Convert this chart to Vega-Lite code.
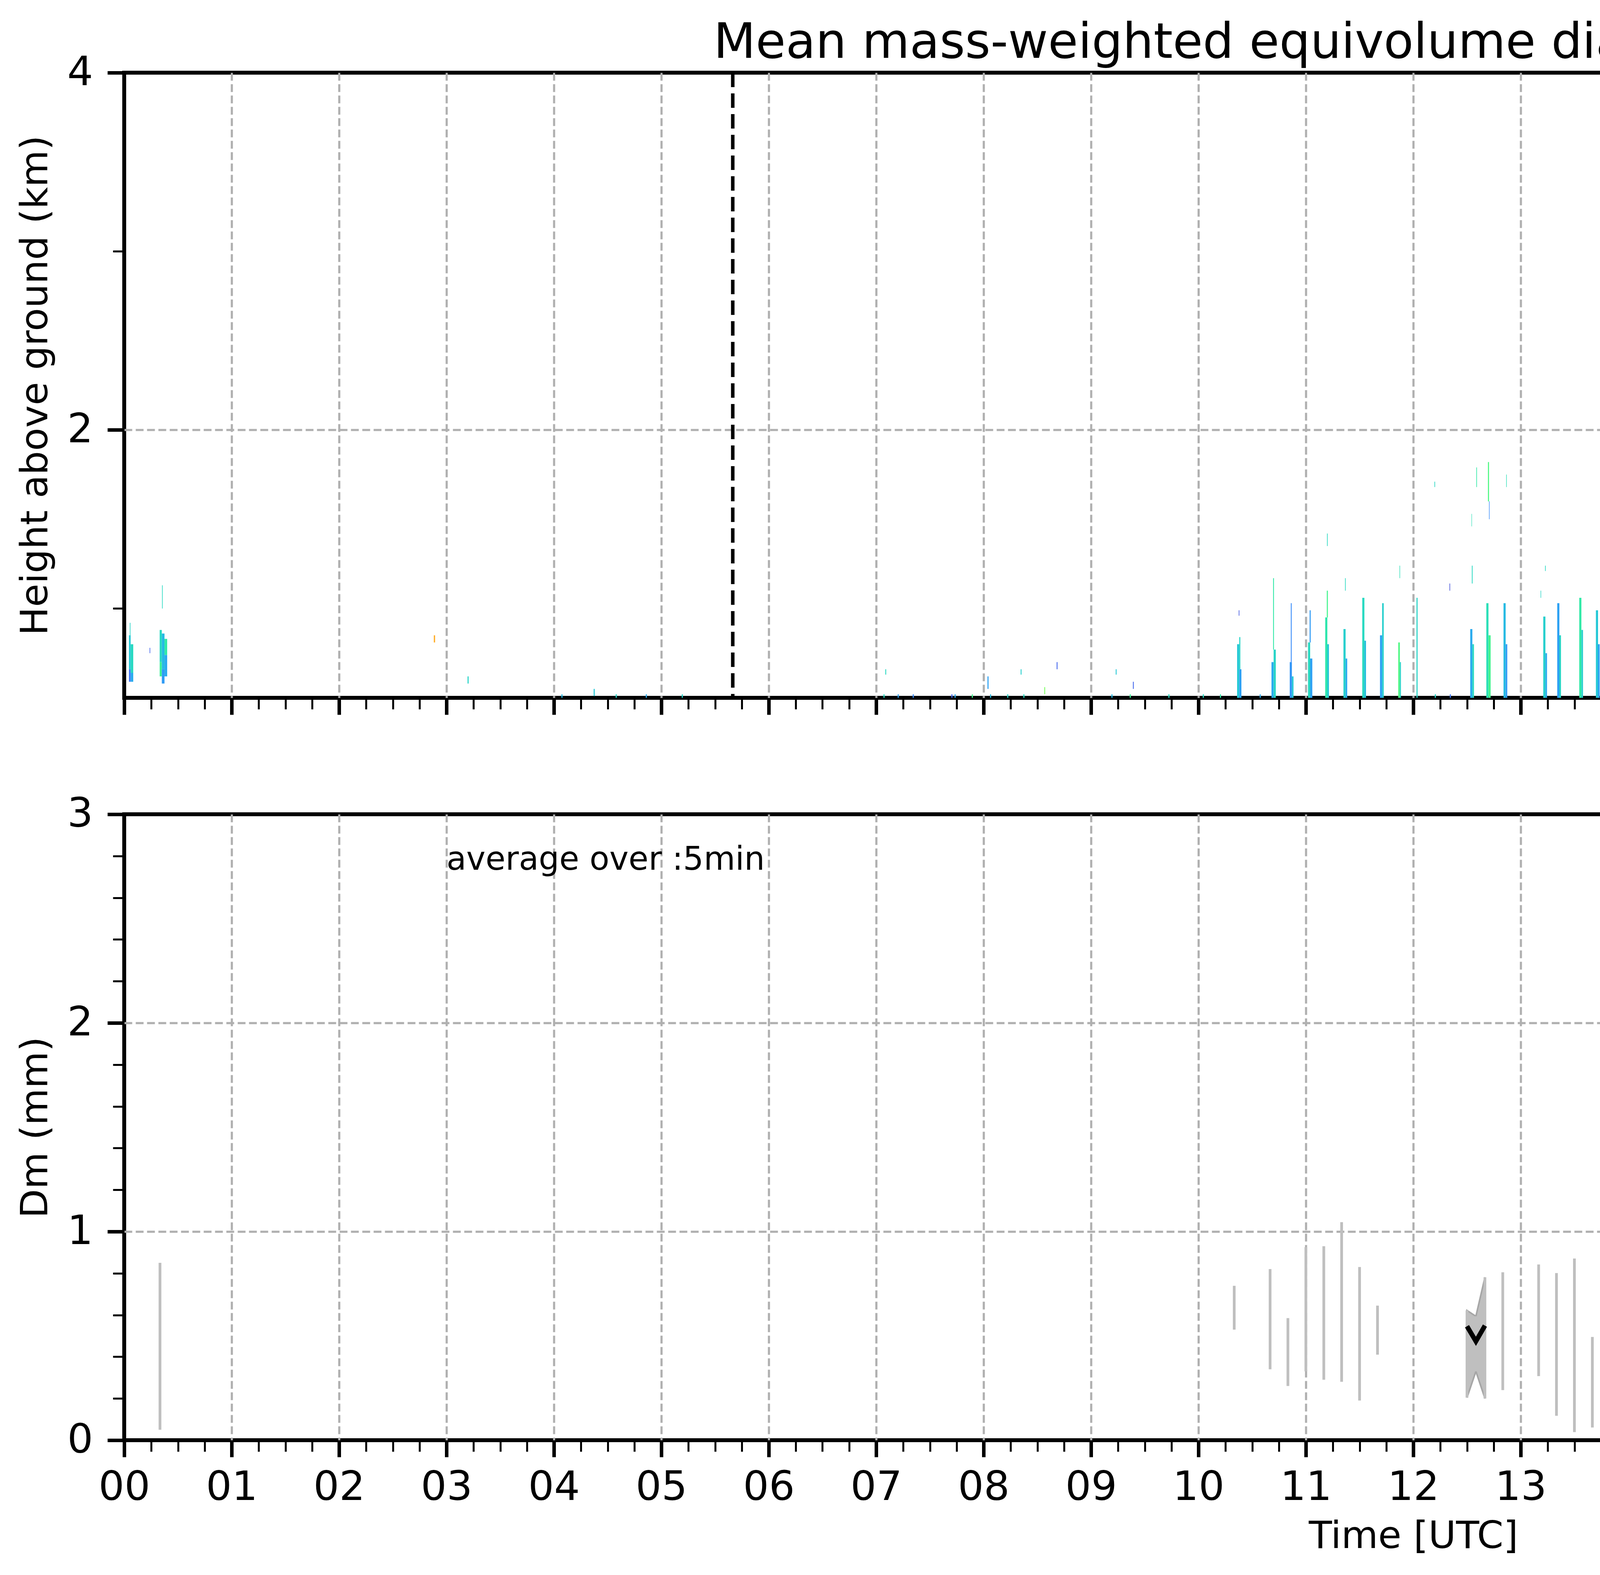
{
  "$schema": "https://vega.github.io/schema/vega-lite/v6.json",
  "autosize": {"type": "none"},
  "padding": {"left": 318, "top": 186, "right": 7124, "bottom": 3845},
  "background": "white",
  "columns": 2,
  "spacing": {"row": 298, "column": 75},
  "bounds": "flush",
  "align": "each",
  "resolve": {"scale": {"color": "independent"}, "legend": {"color": "independent"}},
  "config": {
    "font": "DejaVu Sans",
    "view": {"stroke": "black", "strokeWidth": 10},
    "axis": {
      "domain": false,
      "labelFont": "DejaVu Sans",
      "titleFont": "DejaVu Sans",
      "labelFontSize": 104,
      "titleFontSize": 97,
      "titleFontWeight": "normal",
      "labelColor": "black",
      "titleColor": "black",
      "tickColor": "black",
      "gridColor": "#b0b0b0",
      "gridDash": [20, 9],
      "gridWidth": 5.5,
      "labelOverlap": false,
      "labelFlush": false,
      "labelBound": false,
      "zindex": 1
    }
  },
  "concat": [
    {
      "width": 6600,
      "height": 1600,
      "title": {
        "text": "Mean mass-weighted equivolume diameter on 20241020",
        "fontSize": 125,
        "fontWeight": "normal",
        "font": "DejaVu Sans",
        "color": "black",
        "anchor": "middle",
        "frame": "group",
        "baseline": "alphabetic",
        "offset": -139
      },
      "layer": [
        {
          "data": {"values": [{"t0": 23.88, "t1": 24, "z0": 0.5, "z1": 4}]},
          "mark": {"type": "rect", "color": "#d9d9d9"},
          "encoding": {
            "x": {
              "field": "t0", "type": "quantitative",
              "scale": {"domain": [0, 24], "nice": false, "zero": false},
              "axis": {
                "title": null,
                "labels": false,
                "orient": "bottom",
                "values": [0,0.25,0.5,0.75,1,1.25,1.5,1.75,2,2.25,2.5,2.75,3,3.25,3.5,3.75,4,4.25,4.5,4.75,5,5.25,5.5,5.75,6,6.25,6.5,6.75,7,7.25,7.5,7.75,8,8.25,8.5,8.75,9,9.25,9.5,9.75,10,10.25,10.5,10.75,11,11.25,11.5,11.75,12,12.25,12.5,12.75,13,13.25,13.5,13.75,14,14.25,14.5,14.75,15,15.25,15.5,15.75,16,16.25,16.5,16.75,17,17.25,17.5,17.75,18,18.25,18.5,18.75,19,19.25,19.5,19.75,20,20.25,20.5,20.75,21,21.25,21.5,21.75,22,22.25,22.5,22.75,23,23.25,23.5,23.75,24],
                "tickSize": {"condition": {"test": "datum.value % 1 === 0", "value": 43}, "value": 29},
                "tickWidth": {"condition": {"test": "datum.value % 1 === 0", "value": 9}, "value": 5},
                "grid": true,
                "gridOpacity": {"condition": {"test": "datum.value % 1 === 0 && datum.value > 0 && datum.value < 24", "value": 1}, "value": 0}
              }
            },
            "x2": {"field": "t1"},
            "y": {
              "field": "z0", "type": "quantitative",
              "scale": {"domain": [0.5, 4], "nice": false, "zero": false},
              "axis": {
                "title": "Height above ground (km)",
                "values": [1, 2, 3, 4],
                "labelExpr": "datum.value % 2 === 0 ? '' + datum.value : ''",
                "tickSize": {"condition": {"test": "datum.value % 2 === 0", "value": 43}, "value": 29},
                "tickWidth": {"condition": {"test": "datum.value % 2 === 0", "value": 9}, "value": 5},
                "grid": true,
                "gridOpacity": {"condition": {"test": "datum.value === 2", "value": 1}, "value": 0},
                "labelPadding": 37,
                "titlePadding": 31
              }
            },
            "y2": {"field": "z1"}
          }
        },
        {
          "data": {"values": [
            {"t0":0.044,"t1":0.060,"z0":0.59,"z1":0.66,"dm":0.30},
            {"t0":0.044,"t1":0.060,"z0":0.66,"z1":0.85,"dm":0.55},
            {"t0":0.060,"t1":0.084,"z0":0.59,"z1":0.64,"dm":0.45},
            {"t0":0.060,"t1":0.084,"z0":0.64,"z1":0.80,"dm":0.62},
            {"t0":0.052,"t1":0.058,"z0":0.85,"z1":0.92,"dm":0.60},
            {"t0":0.330,"t1":0.350,"z0":0.62,"z1":0.70,"dm":0.75},
            {"t0":0.330,"t1":0.350,"z0":0.70,"z1":0.88,"dm":0.62},
            {"t0":0.350,"t1":0.375,"z0":0.58,"z1":0.66,"dm":0.40},
            {"t0":0.350,"t1":0.375,"z0":0.66,"z1":0.86,"dm":0.50},
            {"t0":0.375,"t1":0.400,"z0":0.62,"z1":0.74,"dm":0.45},
            {"t0":0.375,"t1":0.400,"z0":0.74,"z1":0.83,"dm":0.70},
            {"t0":0.352,"t1":0.358,"z0":1.00,"z1":1.13,"dm":0.62},
            {"t0":0.236,"t1":0.242,"z0":0.75,"z1":0.78,"dm":0.25},
            {"t0":2.882,"t1":2.894,"z0":0.81,"z1":0.85,"dm":1.40},
            {"t0":3.196,"t1":3.206,"z0":0.58,"z1":0.62,"dm":0.60},
            {"t0":4.07,"t1":4.08,"z0":0.5,"z1":0.52,"dm":0.50},
            {"t0":4.37,"t1":4.38,"z0":0.51,"z1":0.55,"dm":0.55},
            {"t0":4.575,"t1":4.585,"z0":0.5,"z1":0.52,"dm":0.60},
            {"t0":4.855,"t1":4.865,"z0":0.5,"z1":0.52,"dm":0.45},
            {"t0":5.19,"t1":5.20,"z0":0.5,"z1":0.52,"dm":0.60},
            {"t0":7.068,"t1":7.078,"z0":0.5,"z1":0.52,"dm":0.62},
            {"t0":7.085,"t1":7.093,"z0":0.63,"z1":0.66,"dm":0.62},
            {"t0":7.20,"t1":7.21,"z0":0.5,"z1":0.52,"dm":0.42},
            {"t0":7.34,"t1":7.35,"z0":0.5,"z1":0.52,"dm":0.35},
            {"t0":7.70,"t1":7.71,"z0":0.5,"z1":0.52,"dm":0.25},
            {"t0":7.73,"t1":7.74,"z0":0.5,"z1":0.52,"dm":0.45},
            {"t0":7.89,"t1":7.90,"z0":0.5,"z1":0.52,"dm":0.78},
            {"t0":8.036,"t1":8.046,"z0":0.55,"z1":0.62,"dm":0.42},
            {"t0":8.06,"t1":8.07,"z0":0.5,"z1":0.52,"dm":0.50},
            {"t0":8.22,"t1":8.23,"z0":0.5,"z1":0.52,"dm":0.60},
            {"t0":8.345,"t1":8.353,"z0":0.63,"z1":0.66,"dm":0.58},
            {"t0":8.37,"t1":8.38,"z0":0.5,"z1":0.52,"dm":0.62},
            {"t0":8.565,"t1":8.573,"z0":0.52,"z1":0.56,"dm":0.95},
            {"t0":8.68,"t1":8.688,"z0":0.66,"z1":0.70,"dm":0.25},
            {"t0":9.19,"t1":9.20,"z0":0.5,"z1":0.52,"dm":0.50},
            {"t0":9.23,"t1":9.238,"z0":0.63,"z1":0.66,"dm":0.55},
            {"t0":9.36,"t1":9.37,"z0":0.5,"z1":0.52,"dm":0.75},
            {"t0":9.39,"t1":9.398,"z0":0.55,"z1":0.59,"dm":0.25},
            {"t0":9.72,"t1":9.73,"z0":0.5,"z1":0.52,"dm":0.62},
            {"t0":10.04,"t1":10.05,"z0":0.5,"z1":0.52,"dm":0.62},
            {"t0":10.20,"t1":10.21,"z0":0.5,"z1":0.52,"dm":0.70},
            {"t0":10.36,"t1":10.38,"z0":0.5,"z1":0.80,"dm":0.55},
            {"t0":10.38,"t1":10.40,"z0":0.5,"z1":0.66,"dm":0.42},
            {"t0":10.38,"t1":10.39,"z0":0.66,"z1":0.84,"dm":0.60},
            {"t0":10.375,"t1":10.381,"z0":0.96,"z1":0.99,"dm":0.22},
            {"t0":10.57,"t1":10.58,"z0":0.5,"z1":0.52,"dm":0.45},
            {"t0":10.68,"t1":10.70,"z0":0.5,"z1":0.70,"dm":0.45},
            {"t0":10.70,"t1":10.72,"z0":0.5,"z1":0.77,"dm":0.60},
            {"t0":10.695,"t1":10.703,"z0":0.77,"z1":1.17,"dm":0.70},
            {"t0":10.85,"t1":10.87,"z0":0.5,"z1":0.70,"dm":0.38},
            {"t0":10.87,"t1":10.885,"z0":0.5,"z1":0.62,"dm":0.55},
            {"t0":10.86,"t1":10.868,"z0":0.70,"z1":1.03,"dm":0.35},
            {"t0":11.02,"t1":11.04,"z0":0.5,"z1":0.81,"dm":0.62},
            {"t0":11.04,"t1":11.06,"z0":0.5,"z1":0.72,"dm":0.42},
            {"t0":11.035,"t1":11.045,"z0":0.81,"z1":0.99,"dm":0.40},
            {"t0":11.18,"t1":11.20,"z0":0.5,"z1":0.95,"dm":0.68},
            {"t0":11.20,"t1":11.215,"z0":0.5,"z1":0.80,"dm":0.55},
            {"t0":11.195,"t1":11.205,"z0":0.95,"z1":1.10,"dm":0.78},
            {"t0":11.197,"t1":11.203,"z0":1.35,"z1":1.42,"dm":0.62},
            {"t0":11.35,"t1":11.37,"z0":0.5,"z1":0.885,"dm":0.58},
            {"t0":11.37,"t1":11.385,"z0":0.5,"z1":0.72,"dm":0.45},
            {"t0":11.365,"t1":11.371,"z0":1.10,"z1":1.17,"dm":0.62},
            {"t0":11.525,"t1":11.545,"z0":0.5,"z1":1.06,"dm":0.62},
            {"t0":11.545,"t1":11.56,"z0":0.5,"z1":0.82,"dm":0.52},
            {"t0":11.69,"t1":11.71,"z0":0.5,"z1":0.85,"dm":0.42},
            {"t0":11.71,"t1":11.725,"z0":0.5,"z1":1.03,"dm":0.58},
            {"t0":11.86,"t1":11.875,"z0":0.5,"z1":0.81,"dm":0.82},
            {"t0":11.875,"t1":11.885,"z0":0.5,"z1":0.70,"dm":0.60},
            {"t0":11.872,"t1":11.877,"z0":1.17,"z1":1.24,"dm":0.65},
            {"t0":12.03,"t1":12.04,"z0":0.5,"z1":1.06,"dm":0.60},
            {"t0":12.197,"t1":12.203,"z0":1.68,"z1":1.71,"dm":0.62},
            {"t0":12.20,"t1":12.21,"z0":0.5,"z1":0.52,"dm":0.60},
            {"t0":12.337,"t1":12.343,"z0":1.10,"z1":1.14,"dm":0.20},
            {"t0":12.34,"t1":12.35,"z0":0.5,"z1":0.52,"dm":0.30},
            {"t0":12.53,"t1":12.55,"z0":0.5,"z1":0.885,"dm":0.45},
            {"t0":12.55,"t1":12.565,"z0":0.5,"z1":0.80,"dm":0.62},
            {"t0":12.545,"t1":12.552,"z0":1.14,"z1":1.24,"dm":0.62},
            {"t0":12.542,"t1":12.546,"z0":1.46,"z1":1.53,"dm":0.65},
            {"t0":12.587,"t1":12.593,"z0":1.68,"z1":1.79,"dm":0.70},
            {"t0":12.68,"t1":12.70,"z0":0.5,"z1":1.03,"dm":0.65},
            {"t0":12.70,"t1":12.72,"z0":0.5,"z1":0.85,"dm":0.78},
            {"t0":12.695,"t1":12.705,"z0":1.60,"z1":1.82,"dm":0.82},
            {"t0":12.705,"t1":12.71,"z0":1.50,"z1":1.60,"dm":0.35},
            {"t0":12.84,"t1":12.86,"z0":0.5,"z1":1.03,"dm":0.50},
            {"t0":12.86,"t1":12.875,"z0":0.5,"z1":0.80,"dm":0.40},
            {"t0":12.865,"t1":12.87,"z0":1.68,"z1":1.75,"dm":0.65},
            {"t0":13.185,"t1":13.19,"z0":1.06,"z1":1.10,"dm":0.60},
            {"t0":13.21,"t1":13.23,"z0":0.5,"z1":0.955,"dm":0.58},
            {"t0":13.23,"t1":13.245,"z0":0.5,"z1":0.75,"dm":0.45},
            {"t0":13.227,"t1":13.233,"z0":1.21,"z1":1.24,"dm":0.62},
            {"t0":13.34,"t1":13.36,"z0":0.5,"z1":1.03,"dm":0.42},
            {"t0":13.36,"t1":13.375,"z0":0.5,"z1":0.85,"dm":0.60},
            {"t0":13.545,"t1":13.565,"z0":0.5,"z1":1.06,"dm":0.70},
            {"t0":13.565,"t1":13.58,"z0":0.5,"z1":0.88,"dm":0.58},
            {"t0":13.70,"t1":13.72,"z0":0.5,"z1":0.99,"dm":0.55},
            {"t0":13.72,"t1":13.735,"z0":0.5,"z1":0.80,"dm":0.42},
            {"t0":13.86,"t1":13.875,"z0":0.5,"z1":0.92,"dm":0.42},
            {"t0":13.875,"t1":13.89,"z0":0.5,"z1":0.78,"dm":0.58},
            {"t0":14.09,"t1":14.10,"z0":0.5,"z1":0.52,"dm":0.45},
            {"t0":14.23,"t1":14.24,"z0":0.5,"z1":0.53,"dm":0.40},
            {"t0":14.38,"t1":14.395,"z0":0.5,"z1":0.99,"dm":0.38},
            {"t0":14.53,"t1":14.55,"z0":0.5,"z1":1.03,"dm":0.72},
            {"t0":14.55,"t1":14.565,"z0":0.5,"z1":0.80,"dm":0.45},
            {"t0":14.545,"t1":14.552,"z0":1.14,"z1":1.17,"dm":0.80},
            {"t0":14.70,"t1":14.72,"z0":0.5,"z1":0.885,"dm":0.60},
            {"t0":14.85,"t1":14.865,"z0":0.5,"z1":0.84,"dm":0.40},
            {"t0":15.035,"t1":15.045,"z0":0.5,"z1":0.70,"dm":0.50},
            {"t0":15.21,"t1":15.23,"z0":0.5,"z1":0.77,"dm":0.72},
            {"t0":15.54,"t1":15.55,"z0":0.5,"z1":0.52,"dm":0.30},
            {"t0":15.565,"t1":15.575,"z0":0.5,"z1":0.66,"dm":0.35},
            {"t0":15.70,"t1":15.715,"z0":0.5,"z1":0.92,"dm":0.62},
            {"t0":15.715,"t1":15.725,"z0":0.5,"z1":0.70,"dm":0.48},
            {"t0":15.845,"t1":15.86,"z0":0.5,"z1":0.885,"dm":0.58},
            {"t0":15.86,"t1":15.875,"z0":0.5,"z1":0.75,"dm":0.42},
            {"t0":15.857,"t1":15.863,"z0":1.53,"z1":1.56,"dm":0.62},
            {"t0":16.04,"t1":16.06,"z0":0.5,"z1":0.84,"dm":0.40},
            {"t0":16.205,"t1":16.215,"z0":0.5,"z1":0.66,"dm":0.62},
            {"t0":16.35,"t1":16.37,"z0":0.5,"z1":0.66,"dm":0.72},
            {"t0":16.545,"t1":16.565,"z0":0.5,"z1":0.66,"dm":0.50},
            {"t0":16.70,"t1":16.725,"z0":0.5,"z1":0.70,"dm":0.62},
            {"t0":16.84,"t1":16.855,"z0":0.5,"z1":0.70,"dm":0.60},
            {"t0":16.848,"t1":16.854,"z0":0.70,"z1":0.955,"dm":0.35},
            {"t0":17.04,"t1":17.05,"z0":0.5,"z1":0.52,"dm":0.80},
            {"t0":17.21,"t1":17.22,"z0":0.5,"z1":0.52,"dm":0.40},
            {"t0":17.35,"t1":17.367,"z0":0.5,"z1":0.92,"dm":0.58},
            {"t0":17.367,"t1":17.38,"z0":0.5,"z1":0.75,"dm":0.42},
            {"t0":17.545,"t1":17.562,"z0":0.5,"z1":0.92,"dm":0.42},
            {"t0":17.562,"t1":17.575,"z0":0.5,"z1":0.80,"dm":0.60},
            {"t0":17.85,"t1":17.86,"z0":0.5,"z1":0.52,"dm":0.60},
            {"t0":18.05,"t1":18.06,"z0":0.5,"z1":0.52,"dm":0.45},
            {"t0":18.06,"t1":18.066,"z0":1.46,"z1":1.53,"dm":0.62},
            {"t0":18.19,"t1":18.20,"z0":0.5,"z1":0.52,"dm":0.30},
            {"t0":18.238,"t1":18.244,"z0":1.14,"z1":1.17,"dm":0.25},
            {"t0":18.35,"t1":18.36,"z0":0.5,"z1":0.52,"dm":0.62},
            {"t0":18.55,"t1":18.56,"z0":0.5,"z1":0.52,"dm":0.45},
            {"t0":19.87,"t1":19.88,"z0":0.5,"z1":0.52,"dm":0.75},
            {"t0":20.06,"t1":20.07,"z0":0.5,"z1":0.52,"dm":0.30},
            {"t0":20.19,"t1":20.20,"z0":0.5,"z1":0.52,"dm":0.60},
            {"t0":20.34,"t1":20.35,"z0":0.5,"z1":0.52,"dm":0.45},
            {"t0":21.35,"t1":21.36,"z0":0.5,"z1":0.52,"dm":0.45},
            {"t0":21.85,"t1":21.862,"z0":0.5,"z1":0.52,"dm":0.60},
            {"t0":22.05,"t1":22.06,"z0":0.5,"z1":0.52,"dm":0.50},
            {"t0":22.38,"t1":22.39,"z0":0.5,"z1":0.52,"dm":0.70},
            {"t0":22.54,"t1":22.55,"z0":0.5,"z1":0.52,"dm":0.55},
            {"t0":23.187,"t1":23.193,"z0":0.81,"z1":0.85,"dm":0.62}
          ]},
          "mark": {"type": "rect", "strokeWidth": 0},
          "encoding": {
            "x": {"field": "t0", "type": "quantitative", "scale": {"domain": [0, 24], "nice": false, "zero": false}},
            "x2": {"field": "t1"},
            "y": {"field": "z0", "type": "quantitative", "scale": {"domain": [0.5, 4], "nice": false, "zero": false}},
            "y2": {"field": "z1"},
            "color": {"field": "dm", "type": "quantitative", "scale": {"scheme": "turbo", "domain": [0, 2]}, "legend": null}
          }
        },
        {
          "data": {"values": [{"t": 5.665}, {"t": 16.25}]},
          "mark": {"type": "rule", "color": "black", "strokeWidth": 9, "strokeDash": [37, 16]},
          "encoding": {
            "x": {"field": "t", "type": "quantitative", "scale": {"domain": [0, 24], "nice": false, "zero": false}}
          }
        }
      ]
    },
    {
      "width": 112,
      "height": 1600,
      "view": {"stroke": "black", "strokeWidth": 5},
      "data": {"values": [
        {"lo":0,"hi":0.02,"mid":0.01},{"lo":0.02,"hi":0.04,"mid":0.03},{"lo":0.04,"hi":0.06,"mid":0.05},{"lo":0.06,"hi":0.08,"mid":0.07},{"lo":0.08,"hi":0.1,"mid":0.09},
        {"lo":0.1,"hi":0.12,"mid":0.11},{"lo":0.12,"hi":0.14,"mid":0.13},{"lo":0.14,"hi":0.16,"mid":0.15},{"lo":0.16,"hi":0.18,"mid":0.17},{"lo":0.18,"hi":0.2,"mid":0.19},
        {"lo":0.2,"hi":0.22,"mid":0.21},{"lo":0.22,"hi":0.24,"mid":0.23},{"lo":0.24,"hi":0.26,"mid":0.25},{"lo":0.26,"hi":0.28,"mid":0.27},{"lo":0.28,"hi":0.3,"mid":0.29},
        {"lo":0.3,"hi":0.32,"mid":0.31},{"lo":0.32,"hi":0.34,"mid":0.33},{"lo":0.34,"hi":0.36,"mid":0.35},{"lo":0.36,"hi":0.38,"mid":0.37},{"lo":0.38,"hi":0.4,"mid":0.39},
        {"lo":0.4,"hi":0.42,"mid":0.41},{"lo":0.42,"hi":0.44,"mid":0.43},{"lo":0.44,"hi":0.46,"mid":0.45},{"lo":0.46,"hi":0.48,"mid":0.47},{"lo":0.48,"hi":0.5,"mid":0.49},
        {"lo":0.5,"hi":0.52,"mid":0.51},{"lo":0.52,"hi":0.54,"mid":0.53},{"lo":0.54,"hi":0.56,"mid":0.55},{"lo":0.56,"hi":0.58,"mid":0.57},{"lo":0.58,"hi":0.6,"mid":0.59},
        {"lo":0.6,"hi":0.62,"mid":0.61},{"lo":0.62,"hi":0.64,"mid":0.63},{"lo":0.64,"hi":0.66,"mid":0.65},{"lo":0.66,"hi":0.68,"mid":0.67},{"lo":0.68,"hi":0.7,"mid":0.69},
        {"lo":0.7,"hi":0.72,"mid":0.71},{"lo":0.72,"hi":0.74,"mid":0.73},{"lo":0.74,"hi":0.76,"mid":0.75},{"lo":0.76,"hi":0.78,"mid":0.77},{"lo":0.78,"hi":0.8,"mid":0.79},
        {"lo":0.8,"hi":0.82,"mid":0.81},{"lo":0.82,"hi":0.84,"mid":0.83},{"lo":0.84,"hi":0.86,"mid":0.85},{"lo":0.86,"hi":0.88,"mid":0.87},{"lo":0.88,"hi":0.9,"mid":0.89},
        {"lo":0.9,"hi":0.92,"mid":0.91},{"lo":0.92,"hi":0.94,"mid":0.93},{"lo":0.94,"hi":0.96,"mid":0.95},{"lo":0.96,"hi":0.98,"mid":0.97},{"lo":0.98,"hi":1,"mid":0.99},
        {"lo":1,"hi":1.02,"mid":1.01},{"lo":1.02,"hi":1.04,"mid":1.03},{"lo":1.04,"hi":1.06,"mid":1.05},{"lo":1.06,"hi":1.08,"mid":1.07},{"lo":1.08,"hi":1.1,"mid":1.09},
        {"lo":1.1,"hi":1.12,"mid":1.11},{"lo":1.12,"hi":1.14,"mid":1.13},{"lo":1.14,"hi":1.16,"mid":1.15},{"lo":1.16,"hi":1.18,"mid":1.17},{"lo":1.18,"hi":1.2,"mid":1.19},
        {"lo":1.2,"hi":1.22,"mid":1.21},{"lo":1.22,"hi":1.24,"mid":1.23},{"lo":1.24,"hi":1.26,"mid":1.25},{"lo":1.26,"hi":1.28,"mid":1.27},{"lo":1.28,"hi":1.3,"mid":1.29},
        {"lo":1.3,"hi":1.32,"mid":1.31},{"lo":1.32,"hi":1.34,"mid":1.33},{"lo":1.34,"hi":1.36,"mid":1.35},{"lo":1.36,"hi":1.38,"mid":1.37},{"lo":1.38,"hi":1.4,"mid":1.39},
        {"lo":1.4,"hi":1.42,"mid":1.41},{"lo":1.42,"hi":1.44,"mid":1.43},{"lo":1.44,"hi":1.46,"mid":1.45},{"lo":1.46,"hi":1.48,"mid":1.47},{"lo":1.48,"hi":1.5,"mid":1.49},
        {"lo":1.5,"hi":1.52,"mid":1.51},{"lo":1.52,"hi":1.54,"mid":1.53},{"lo":1.54,"hi":1.56,"mid":1.55},{"lo":1.56,"hi":1.58,"mid":1.57},{"lo":1.58,"hi":1.6,"mid":1.59},
        {"lo":1.6,"hi":1.62,"mid":1.61},{"lo":1.62,"hi":1.64,"mid":1.63},{"lo":1.64,"hi":1.66,"mid":1.65},{"lo":1.66,"hi":1.68,"mid":1.67},{"lo":1.68,"hi":1.7,"mid":1.69},
        {"lo":1.7,"hi":1.72,"mid":1.71},{"lo":1.72,"hi":1.74,"mid":1.73},{"lo":1.74,"hi":1.76,"mid":1.75},{"lo":1.76,"hi":1.78,"mid":1.77},{"lo":1.78,"hi":1.8,"mid":1.79},
        {"lo":1.8,"hi":1.82,"mid":1.81},{"lo":1.82,"hi":1.84,"mid":1.83},{"lo":1.84,"hi":1.86,"mid":1.85},{"lo":1.86,"hi":1.88,"mid":1.87},{"lo":1.88,"hi":1.9,"mid":1.89},
        {"lo":1.9,"hi":1.92,"mid":1.91},{"lo":1.92,"hi":1.94,"mid":1.93},{"lo":1.94,"hi":1.96,"mid":1.95},{"lo":1.96,"hi":1.98,"mid":1.97},{"lo":1.98,"hi":2,"mid":1.99}
      ]},
      "mark": {"type": "rect", "strokeWidth": 0},
      "encoding": {
        "y": {
          "field": "lo", "type": "quantitative",
          "scale": {"domain": [0, 2], "nice": false, "zero": false},
          "axis": {
            "orient": "right",
            "values": [0, 0.4, 0.8, 1.2, 1.6, 2.0],
            "format": ".1f",
            "tickSize": 21,
            "tickWidth": 5,
            "labelFontSize": 76,
            "labelPadding": 66,
            "grid": false,
            "title": "Dm (mm)",
            "titleFontSize": 83,
            "titleAngle": 270,
            "titleBaseline": "top",
            "titlePadding": 0
          }
        },
        "y2": {"field": "hi"},
        "color": {"field": "mid", "type": "quantitative", "scale": {"scheme": "turbo", "domain": [0, 2]}, "legend": null}
      }
    },
    {
      "width": 6600,
      "height": 1602,
      "layer": [
        {
          "data": {"name": "radar", "values": [
            {"t":0.333,"lo":0.05,"hi":0.85},
            {"t":10.333,"lo":0.53,"hi":0.74},
            {"t":10.667,"lo":0.34,"hi":0.82},
            {"t":10.833,"lo":0.26,"hi":0.585},
            {"t":11.0,"lo":0.33,"hi":0.925},
            {"t":11.167,"lo":0.29,"hi":0.93},
            {"t":11.333,"lo":0.28,"hi":1.045},
            {"t":11.5,"lo":0.19,"hi":0.83},
            {"t":11.667,"lo":0.41,"hi":0.645},
            {"t":12.5,"lo":0.204,"hi":0.622,"med":0.546,"seg":"a"},
            {"t":12.583,"lo":0.33,"hi":0.594,"med":0.474,"seg":"a"},
            {"t":12.667,"lo":0.2,"hi":0.781,"med":0.549,"seg":"a"},
            {"t":12.833,"lo":0.24,"hi":0.805},
            {"t":13.167,"lo":0.307,"hi":0.842},
            {"t":13.333,"lo":0.117,"hi":0.801},
            {"t":13.5,"lo":0.039,"hi":0.871},
            {"t":13.667,"lo":0.061,"hi":0.495},
            {"t":13.833,"lo":0.271,"hi":0.959},
            {"t":14.5,"lo":0.167,"hi":0.723,"med":0.677,"seg":"b"},
            {"t":14.583,"lo":0.47,"hi":0.6,"med":0.563,"seg":"b"},
            {"t":14.667,"med":0.447,"seg":"b"},
            {"t":16.833,"lo":0.094,"hi":0.608},
            {"t":17.5,"lo":0.1,"hi":0.74,"med":0.271,"seg":"c"},
            {"t":17.583,"lo":0.5,"hi":0.57,"med":0.564,"seg":"c"}
          ]},
          "transform": [{"filter": "datum.seg != null && datum.lo != null"}],
          "mark": {"type": "area", "stroke": "#a6a6a6", "strokeWidth": 4},
          "encoding": {
            "x": {
              "field": "t", "type": "quantitative",
              "scale": {"domain": [0, 24], "nice": false, "zero": false},
              "axis": {
                "title": "Time [UTC]",
                "orient": "bottom",
                "values": [0,0.25,0.5,0.75,1,1.25,1.5,1.75,2,2.25,2.5,2.75,3,3.25,3.5,3.75,4,4.25,4.5,4.75,5,5.25,5.5,5.75,6,6.25,6.5,6.75,7,7.25,7.5,7.75,8,8.25,8.5,8.75,9,9.25,9.5,9.75,10,10.25,10.5,10.75,11,11.25,11.5,11.75,12,12.25,12.5,12.75,13,13.25,13.5,13.75,14,14.25,14.5,14.75,15,15.25,15.5,15.75,16,16.25,16.5,16.75,17,17.25,17.5,17.75,18,18.25,18.5,18.75,19,19.25,19.5,19.75,20,20.25,20.5,20.75,21,21.25,21.5,21.75,22,22.25,22.5,22.75,23,23.25,23.5,23.75,24],
                "labelExpr": "datum.value % 1 === 0 && datum.value < 24 ? (datum.value < 10 ? '0' + datum.value : '' + datum.value) : ''",
                "tickSize": {"condition": {"test": "datum.value % 1 === 0", "value": 43}, "value": 29},
                "tickWidth": {"condition": {"test": "datum.value % 1 === 0", "value": 9}, "value": 5},
                "grid": true,
                "gridOpacity": {"condition": {"test": "datum.value % 1 === 0 && datum.value > 0 && datum.value < 24", "value": 1}, "value": 0},
                "labelPadding": 27,
                "titlePadding": 25
              }
            },
            "y": {
              "field": "hi", "type": "quantitative",
              "scale": {"domain": [0, 3], "nice": false, "zero": false},
              "axis": {
                "title": "Dm (mm)",
                "values": [0,0.2,0.4,0.6,0.8,1,1.2,1.4,1.6,1.8,2,2.2,2.4,2.6,2.8,3],
                "labelExpr": "datum.value % 1 === 0 ? '' + datum.value : ''",
                "tickSize": {"condition": {"test": "datum.value % 1 === 0", "value": 43}, "value": 29},
                "tickWidth": {"condition": {"test": "datum.value % 1 === 0", "value": 9}, "value": 5},
                "grid": true,
                "gridOpacity": {"condition": {"test": "datum.value % 1 === 0 && datum.value > 0 && datum.value < 3", "value": 1}, "value": 0},
                "labelPadding": 37,
                "titlePadding": 31
              }
            },
            "y2": {"field": "lo"},
            "detail": {"field": "seg", "type": "nominal"},
            "fill": {
              "datum": "Min-Max Range radar Dm",
              "type": "nominal",
              "scale": {
                "domain": ["Min-Max Range radar Dm", "Min-Max Range parsivel Dm"],
                "range": ["#bfbfbf", "#ecb2ec"]
              },
              "legend": {
                "title": null,
                "orient": "none",
                "legendX": 5157,
                "legendY": 61,
                "padding": 0,
                "rowPadding": 133,
                "labelFontSize": 69,
                "labelFont": "DejaVu Sans",
                "labelColor": "black",
                "labelOffset": 95,
                "labelLimit": 3000,
                "symbolOffset": 37,
                "symbolSize": 3600,
                "symbolStrokeWidth": 0,
                "symbolOpacity": 1,
                "symbolType": "M-2.383,-0.9H2.383V0.9H-2.383Z"
              }
            }
          }
        },
        {
          "data": {"name": "radar"},
          "transform": [{"filter": "datum.lo != null"}],
          "mark": {"type": "rule", "color": "#bfbfbf", "strokeWidth": 7},
          "encoding": {
            "x": {"field": "t", "type": "quantitative", "scale": {"domain": [0, 24], "nice": false, "zero": false}},
            "y": {"field": "lo", "type": "quantitative", "scale": {"domain": [0, 3], "nice": false, "zero": false}},
            "y2": {"field": "hi"}
          }
        },
        {
          "data": {"name": "radar"},
          "transform": [{"filter": "datum.med != null"}],
          "mark": {"type": "line", "strokeWidth": 12},
          "encoding": {
            "x": {"field": "t", "type": "quantitative", "scale": {"domain": [0, 24], "nice": false, "zero": false}},
            "y": {"field": "med", "type": "quantitative", "scale": {"domain": [0, 3], "nice": false, "zero": false}},
            "detail": {"field": "seg", "type": "nominal"},
            "stroke": {
              "datum": "radar(xmacs-wmacs)_Dm_median",
              "type": "nominal",
              "scale": {
                "domain": ["radar(xmacs-wmacs)_Dm_median", "parsivel_Dm_median"],
                "range": ["#000000", "#bf00bf"]
              },
              "legend": {
                "title": null,
                "orient": "none",
                "legendX": 5157,
                "legendY": 167,
                "padding": 0,
                "rowPadding": 133,
                "labelFontSize": 69,
                "labelFont": "DejaVu Sans",
                "labelColor": "black",
                "labelOffset": 95,
                "labelLimit": 3000,
                "symbolOffset": 37,
                "symbolSize": 3600,
                "symbolStrokeWidth": 10,
                "symbolOpacity": 1,
                "symbolType": "M-2.467,0H2.467"
              }
            }
          }
        },
        {
          "data": {"values": [{"t": 3.0, "v": 2.78, "label": "average over :5min"}]},
          "mark": {"type": "text", "align": "left", "baseline": "middle", "fontSize": 83, "font": "DejaVu Sans", "color": "black"},
          "encoding": {
            "x": {"field": "t", "type": "quantitative", "scale": {"domain": [0, 24], "nice": false, "zero": false}},
            "y": {"field": "v", "type": "quantitative", "scale": {"domain": [0, 3], "nice": false, "zero": false}},
            "text": {"field": "label"}
          }
        }
      ]
    }
  ]
}
